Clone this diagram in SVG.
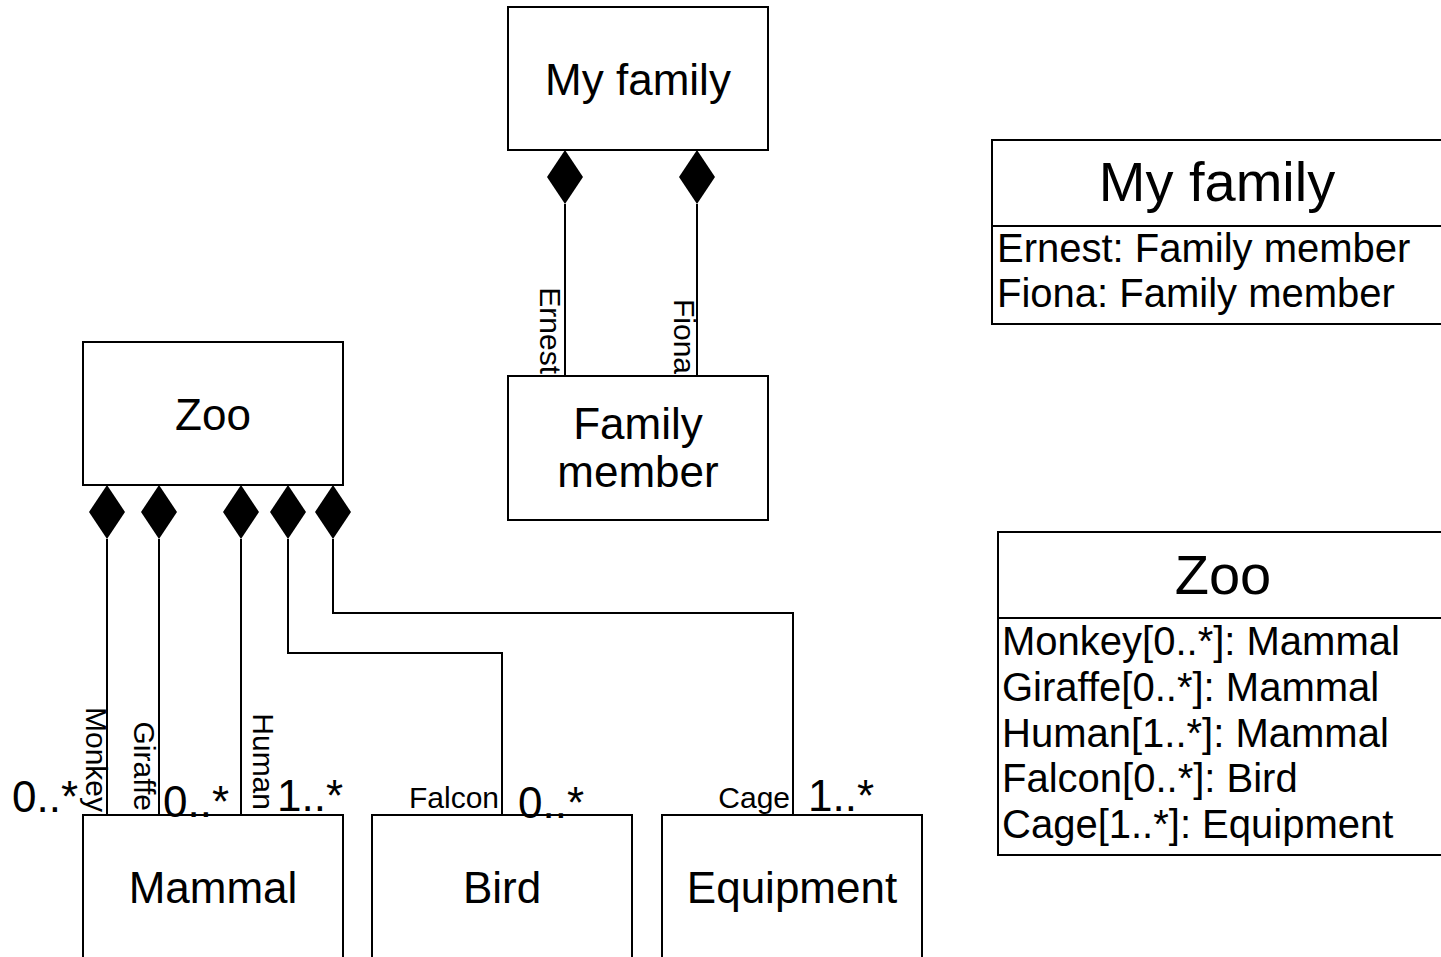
<svg xmlns="http://www.w3.org/2000/svg" width="1441" height="957" viewBox="0 0 1441 957">
<style>
text{font-family:"Liberation Sans",Arial,sans-serif;fill:#000}
.box{fill:#fff;stroke:#000;stroke-width:2}
.lbl{font-size:44px;text-anchor:middle}
.edge{fill:none;stroke:#000;stroke-width:2}
.dia{fill:#000;stroke:none}
.role{font-size:30px}
.mult{font-size:44px}
.ttl{font-size:56px;text-anchor:middle}
.attr{font-size:40px}
</style>
<rect width="1441" height="957" fill="#fff"/>
<g id="connectors">
<path class="edge" d="M565,204V376"/>
<path class="edge" d="M697,204V376"/>
<path class="edge" d="M107,539V815"/>
<path class="edge" d="M159,539V815"/>
<path class="edge" d="M241,539V815"/>
<path class="edge" d="M288,539V653H502V815"/>
<path class="edge" d="M333,539V613H793V815"/>
<path class="dia" d="M565,150L583,177L565,204L547,177Z"/>
<path class="dia" d="M697,150L715,177L697,204L679,177Z"/>
<path class="dia" d="M107,485L125,512L107,539L89,512Z"/>
<path class="dia" d="M159,485L177,512L159,539L141,512Z"/>
<path class="dia" d="M241,485L259,512L241,539L223,512Z"/>
<path class="dia" d="M288,485L306,512L288,539L270,512Z"/>
<path class="dia" d="M333,485L351,512L333,539L315,512Z"/>
<text class="role" text-anchor="end" transform="translate(540,374) rotate(90)">Ernest</text>
<text class="role" text-anchor="end" transform="translate(674,374) rotate(90)">Fiona</text>
<text class="role" text-anchor="end" transform="translate(86,812) rotate(90)">Monkey</text>
<text class="role" text-anchor="end" transform="translate(134,811) rotate(90)">Giraffe</text>
<text class="role" text-anchor="end" transform="translate(253,810) rotate(90)">Human</text>
<text class="role" x="499" y="808" text-anchor="end">Falcon</text>
<text class="role" x="790" y="808" text-anchor="end">Cage</text>
</g>
<g id="my-family">
<rect class="box" x="508" y="7" width="260" height="143"/>
<text class="lbl" x="638" y="95">My family</text>
</g>
<g id="family-member">
<rect class="box" x="508" y="376" width="260" height="144"/>
<text class="lbl" x="638" y="439">Family</text>
<text class="lbl" x="638" y="487">member</text>
</g>
<g id="zoo">
<rect class="box" x="83" y="342" width="260" height="143"/>
<text class="lbl" x="213" y="430">Zoo</text>
</g>
<g id="mammal">
<rect class="box" x="83" y="815" width="260" height="145"/>
<text class="lbl" x="213" y="903">Mammal</text>
</g>
<g id="bird">
<rect class="box" x="372" y="815" width="260" height="145"/>
<text class="lbl" x="502" y="903">Bird</text>
</g>
<g id="equipment">
<rect class="box" x="662" y="815" width="260" height="145"/>
<text class="lbl" x="792" y="903">Equipment</text>
</g>
<g id="multiplicities">
<text class="mult" x="12" y="812">0..*</text>
<text class="mult" x="163" y="817">0..*</text>
<text class="mult" x="277" y="811">1..*</text>
<text class="mult" x="518" y="818">0..*</text>
<text class="mult" x="808" y="811">1..*</text>
</g>
<g id="my-family-table">
<rect class="box" x="992" y="140" width="451" height="184"/>
<path class="edge" d="M992,226H1443"/>
<text class="ttl" x="1217" y="201">My family</text>
<text class="attr" x="997" y="262">Ernest: Family member</text>
<text class="attr" x="997" y="307">Fiona: Family member</text>
</g>
<g id="zoo-table">
<rect class="box" x="998" y="532" width="451" height="323"/>
<path class="edge" d="M998,618H1449"/>
<text class="ttl" x="1223" y="594">Zoo</text>
<text class="attr" x="1002" y="655">Monkey[0..*]: Mammal</text>
<text class="attr" x="1002" y="701">Giraffe[0..*]: Mammal</text>
<text class="attr" x="1002" y="747">Human[1..*]: Mammal</text>
<text class="attr" x="1002" y="792">Falcon[0..*]: Bird</text>
<text class="attr" x="1002" y="838">Cage[1..*]: Equipment</text>
</g>
</svg>
